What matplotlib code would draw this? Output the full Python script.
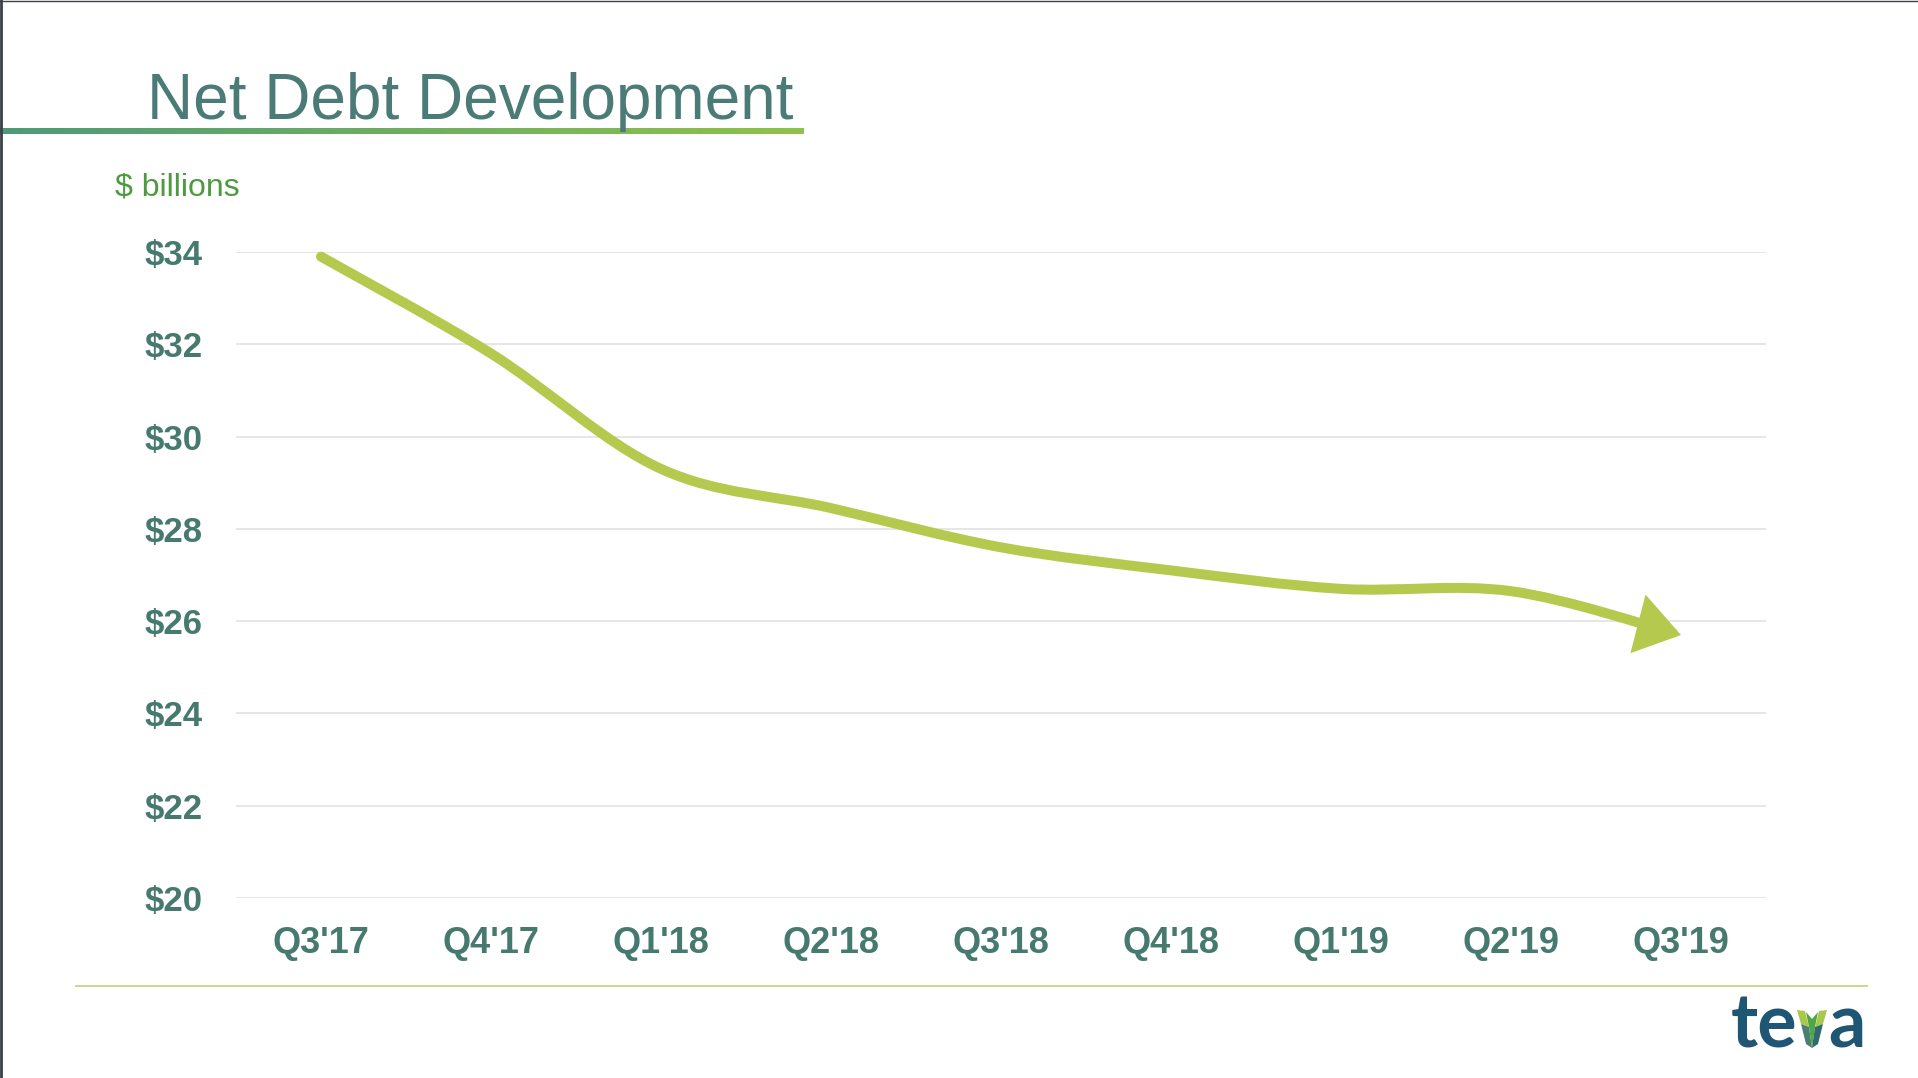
import matplotlib.pyplot as plt
import numpy as np
from matplotlib.path import Path
from matplotlib.patches import FancyArrowPatch, Polygon
from matplotlib.lines import Line2D

plt.rcParams['font.family'] = ['Liberation Sans', 'DejaVu Sans']

quarters = ["Q3'17", "Q4'17", "Q1'18", "Q2'18", "Q3'18", "Q4'18", "Q1'19", "Q2'19", "Q3'19"]
net_debt = [33.9, 31.8, 29.3, 28.45, 27.6, 27.1, 26.7, 26.65, 25.7]
y_ticks = [20, 22, 24, 26, 28, 30, 32, 34]
y_labels = ['$20', '$22', '$24', '$26', '$28', '$30', '$32', '$34']

TEAL = '#477A6F'
LINE = '#B6C94F'


def smooth_path(xs, ys):
    """bezier path through the points, excel style smoothing"""
    pts = np.column_stack([xs, ys]).astype(float)
    n = len(pts)
    verts = [pts[0]]
    codes = [Path.MOVETO]
    for i in range(n - 1):
        p0 = pts[max(i - 1, 0)]
        p1 = pts[i]
        p2 = pts[i + 1]
        p3 = pts[min(i + 2, n - 1)]
        c1 = p1 + (p2 - p0) / 6.0
        c2 = p2 - (p3 - p1) / 6.0
        verts += [c1, c2, p2]
        codes += [Path.CURVE4] * 3
    return Path(verts, codes)


W, H = 1918, 1078
fig = plt.figure(figsize=(W / 100, H / 100), dpi=100)
fig.patch.set_facecolor('white')

ax = fig.add_axes([236 / W, 1 - 898 / H, (1766 - 236) / W, (898 - 252) / H])
x = np.arange(len(quarters))
ax.set_xlim(-0.5, len(quarters) - 0.5)
ax.set_ylim(20, 34)
ax.set_yticks(y_ticks)
ax.set_yticklabels(y_labels)
ax.set_xticks(x)
ax.set_xticklabels(quarters)
for s in ax.spines.values():
    s.set_visible(False)
ax.tick_params(length=0, labelcolor=TEAL)
ax.tick_params(axis='y', pad=24, labelsize=25)
ax.tick_params(axis='x', pad=20, labelsize=26)
for lab in ax.get_xticklabels() + ax.get_yticklabels():
    lab.set_fontweight('bold')
ax.grid(axis='y', color='#E2E2E2', lw=1.2)
ax.set_axisbelow(True)

arrow = FancyArrowPatch(path=smooth_path(x, net_debt),
                        arrowstyle='-|>,head_length=22,head_width=15',
                        mutation_scale=1, lw=7.2, color=LINE,
                        capstyle='round', joinstyle='miter',
                        transform=ax.transData, clip_on=False)
ax.add_patch(arrow)

# overlay in pixel coords for slide decorations
ov = fig.add_axes([0, 0, 1, 1], zorder=-1)
ov.set_xlim(0, W)
ov.set_ylim(H, 0)
ov.axis('off')

ov.text(147, 119, 'Net Debt Development', fontsize=46, color='#4B7B76',
        va='baseline', ha='left')
grad = np.linspace(0, 1, 256).reshape(1, -1)
c0 = np.array([78, 154, 120]) / 255
c1 = np.array([143, 194, 74]) / 255
img = c0[None, None, :] * (1 - grad[..., None]) + c1[None, None, :] * grad[..., None]
ov.imshow(img, extent=[0, 804, 134, 128], aspect='auto')
ov.set_xlim(0, W)
ov.set_ylim(H, 0)

ov.text(115, 188, '$ billions', fontsize=23, color='#4E9A3E', va='center', ha='left')

ov.add_line(Line2D([76, 1867], [986, 986], color='#C8D98A', lw=1.4))
ov.add_line(Line2D([1, 1], [0, H], color='#3B4045', lw=2))
ov.add_line(Line2D([0, W], [0.5, 0.5], color='#3B4045', lw=1))

# teva logo
ov.text(1797, 1048, 'te', fontsize=53, fontweight='bold', family='Lato',
        color='#1F5673', ha='right', va='baseline')
ov.text(1828, 1048, 'a', fontsize=53, fontweight='bold', family='Lato',
        color='#1F5673', ha='left', va='baseline')
leaves = [
    ([(1797, 1010), (1805, 1011), (1809, 1027), (1801, 1024)], '#A9C84B'),
    ([(1801, 1024), (1809, 1027), (1812, 1048), (1806, 1044)], '#4A7F74'),
    ([(1806, 1012), (1812, 1019), (1812, 1048), (1809, 1027)], '#4FA646'),
    ([(1818, 1012), (1812, 1019), (1812, 1048), (1815, 1027)], '#4FA646'),
    ([(1827, 1010), (1819, 1011), (1815, 1027), (1823, 1024)], '#A9C84B'),
    ([(1823, 1024), (1815, 1027), (1812, 1048), (1818, 1044)], '#2E6A6E'),
]
for pts, col in leaves:
    ov.add_patch(Polygon(pts, closed=True, color=col, lw=0))

fig.savefig('out.png', dpi=100, facecolor='white')
